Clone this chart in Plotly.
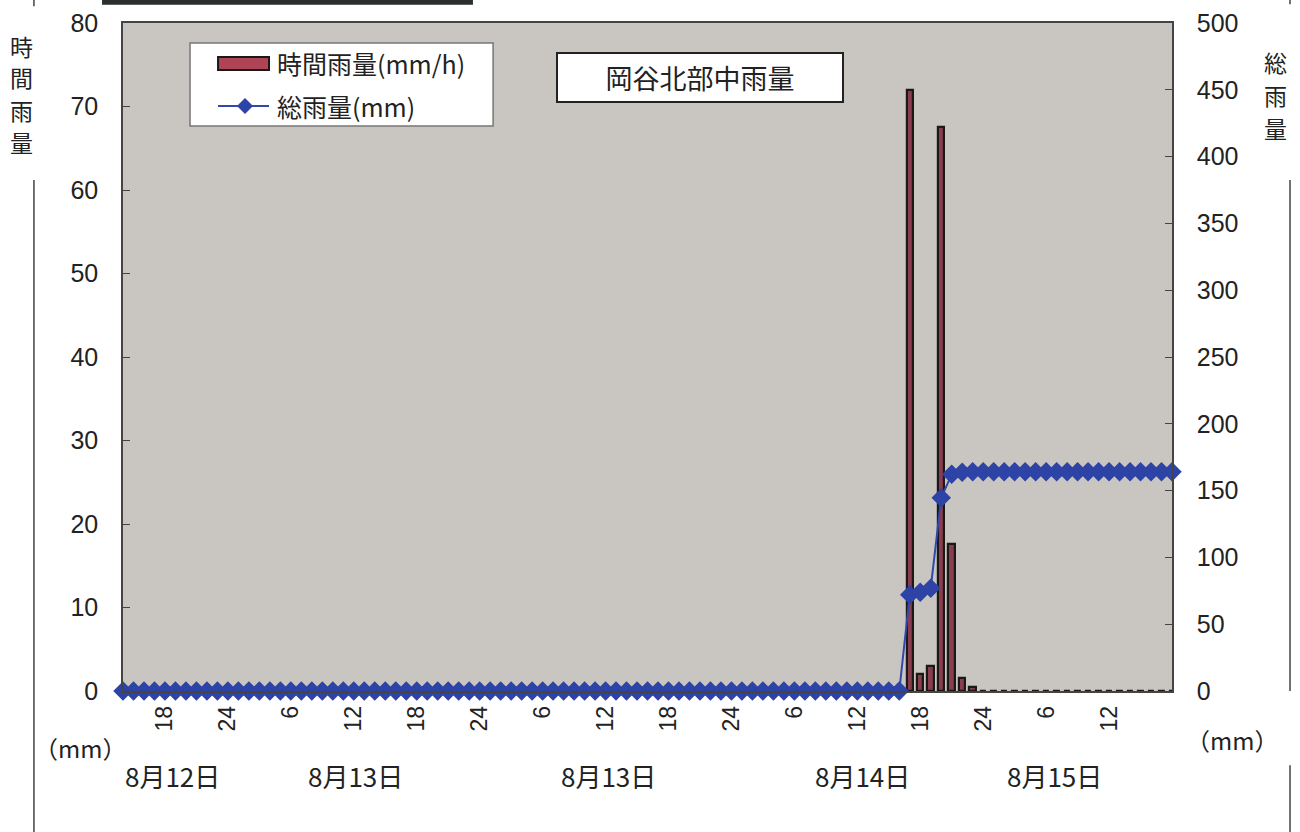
import plotly.graph_objects as go

# ---- data (hourly index from 8/12 14:00) ----
hours = list(range(101))
rain_mm_h = ([0] * 75 +
             [72.0, 2.0, 3.0, 67.6, 17.6, 1.5, 0.5] +
             [0] * 19)
total_mm = ([0] * 75 +
            [72.0, 74.0, 77.0, 144.6, 162.2, 163.7, 164.2] +
            [164.2] * 19)
tick_pos = [4, 10, 16, 22, 28, 34, 40, 46, 52, 58, 64, 70, 76, 82, 88, 94]
tick_text = ["18", "24", "6", "12", "18", "24", "6", "12",
             "18", "24", "6", "12", "18", "24", "6", "12"]
date_labels = ["8月12日", "8月13日", "8月13日", "8月14日", "8月15日"]
date_x = [0.047, 0.222, 0.463, 0.705, 0.888]
series_names = ["時間雨量(mm/h)", "総雨量(mm)"]
left_title = ["時", "間", "雨", "量"]
right_title = ["総", "雨", "量"]

JP = "Noto Sans CJK JP"
NUM = "Liberation Sans"
BAR_FILL = "#8a3d4c"
LINE_C = "#3148ae"

fig = go.Figure()
fig.add_trace(go.Bar(
    x=hours, y=rain_mm_h, name=series_names[0], width=0.62,
    marker=dict(color=BAR_FILL, line=dict(color="#1c1818", width=2.2)),
    yaxis="y", showlegend=False))
fig.add_trace(go.Scatter(
    x=hours, y=total_mm, name=series_names[1], mode="lines+markers",
    line=dict(color=LINE_C, width=2),
    marker=dict(symbol="diamond", size=15, color="#2d43a6"),
    cliponaxis=False, yaxis="y2", showlegend=False))

fig.update_layout(
    width=1300, height=832,
    margin=dict(l=123, r=128, t=23, b=141),
    paper_bgcolor="white", plot_bgcolor="#c9c6c1",
    font=dict(family=NUM, size=22, color="#222"),
    showlegend=False,
    xaxis=dict(range=[0, 100], tickmode="array", tickvals=tick_pos,
               ticktext=tick_text, tickangle=-90, showgrid=False,
               zeroline=False, showline=True, linecolor="#444", linewidth=1.5,
               mirror=True, ticks="", ticklabelstandoff=4, automargin=False,
               tickfont=dict(family=NUM, size=23)),
    yaxis=dict(range=[0, 80], dtick=10, showgrid=False, zeroline=False,
               showline=True, linecolor="#444", linewidth=1.5,
               ticks="inside", ticklen=7, tickcolor="#444", automargin=False,
               ticklabelstandoff=18, tickfont=dict(family=NUM, size=25)),
    yaxis2=dict(range=[0, 500], dtick=50, overlaying="y", side="right",
                showgrid=False, zeroline=False, showline=True,
                linecolor="#444", linewidth=1.5, ticks="inside", ticklen=7,
                tickcolor="#444", ticklabelstandoff=18, automargin=False,
                tickfont=dict(family=NUM, size=25)),
    bargap=0,
)

def A(text, x, y, size, **kw):
    d = dict(text=text, x=x, y=y, xref="paper", yref="paper", showarrow=False,
             xanchor=kw.pop("xanchor", "center"), yanchor="middle",
             font=dict(family=JP, size=size, color="#222"))
    d.update(kw)
    return d

ann = [
    A("岡谷北部中雨量", 0.55, 0.9184, 27, bgcolor="white", bordercolor="#222",
      borderwidth=2, borderpad=5, width=274, height=37),
    A("（mm）", -0.041, -0.085, 24),
    A("（mm）", 1.057, -0.073, 24),
    A(series_names[0], 0.1449, 0.9401, 25, xanchor="left"),
    A(series_names[1], 0.1449, 0.8758, 25, xanchor="left"),
]
for ch, yy in zip(left_title, [0.9656, 0.9192, 0.8698, 0.8219]):
    ann.append(A(ch, -0.0963, yy, 23))
for ch, yy in zip(right_title, [0.9416, 0.8922, 0.8428]):
    ann.append(A(ch, 1.0982, yy, 23))
for t, xx in zip(date_labels, date_x):
    ann.append(A(t, xx, -0.127, 26))
fig.update_layout(annotations=ann)

frame = dict(color="#444", width=1.5)
shapes = [
    # page frame pieces
    dict(type="line", xref="paper", yref="paper", x0=-0.0849, x1=-0.0849,
         y0=0.765, y1=-0.215, line=frame),
    dict(type="line", xref="paper", yref="paper", x0=-0.0849, x1=-0.0849,
         y0=1.04, y1=1.025, line=frame),
    dict(type="line", xref="paper", yref="paper", x0=1.1125, x1=1.1125,
         y0=0.765, y1=0.0, line=frame),
    dict(type="line", xref="paper", yref="paper", x0=1.1125, x1=1.1125,
         y0=-0.111, y1=-0.215, line=frame),
    dict(type="line", xref="paper", yref="paper", x0=1.1125, x1=1.1125,
         y0=1.04, y1=1.028, line=frame),
    dict(type="rect", xref="paper", yref="paper", x0=-0.02, x1=0.3336,
         y0=1.0275, y1=1.05, fillcolor="#2b302d", line=dict(width=0)),
    # legend box
    dict(type="rect", xref="paper", yref="paper", x0=0.0639, x1=0.3528,
         y0=0.8458, y1=0.9701, fillcolor="white", line=dict(color="#777", width=1.5)),
    dict(type="rect", xref="paper", yref="paper", x0=0.0906, x1=0.1392,
         y0=0.9296, y1=0.9491, fillcolor="#b04457", line=dict(color="#1c1818", width=2)),
    dict(type="line", xref="paper", yref="paper", x0=0.0906, x1=0.1392,
         y0=0.8758, y1=0.8758, line=dict(color=LINE_C, width=2)),
    dict(type="path", xref="paper", yref="paper", xsizemode="pixel", ysizemode="pixel",
         xanchor=0.1163, yanchor=0.8758, path="M 0 8 L 8 0 L 0 -8 L -8 0 Z",
         fillcolor="#2d43a6", line=dict(width=0)),
]
fig.update_layout(shapes=shapes)

fig.write_html("out.html", config={"displayModeBar": False},
               post_script="document.body.style.margin='0';")
